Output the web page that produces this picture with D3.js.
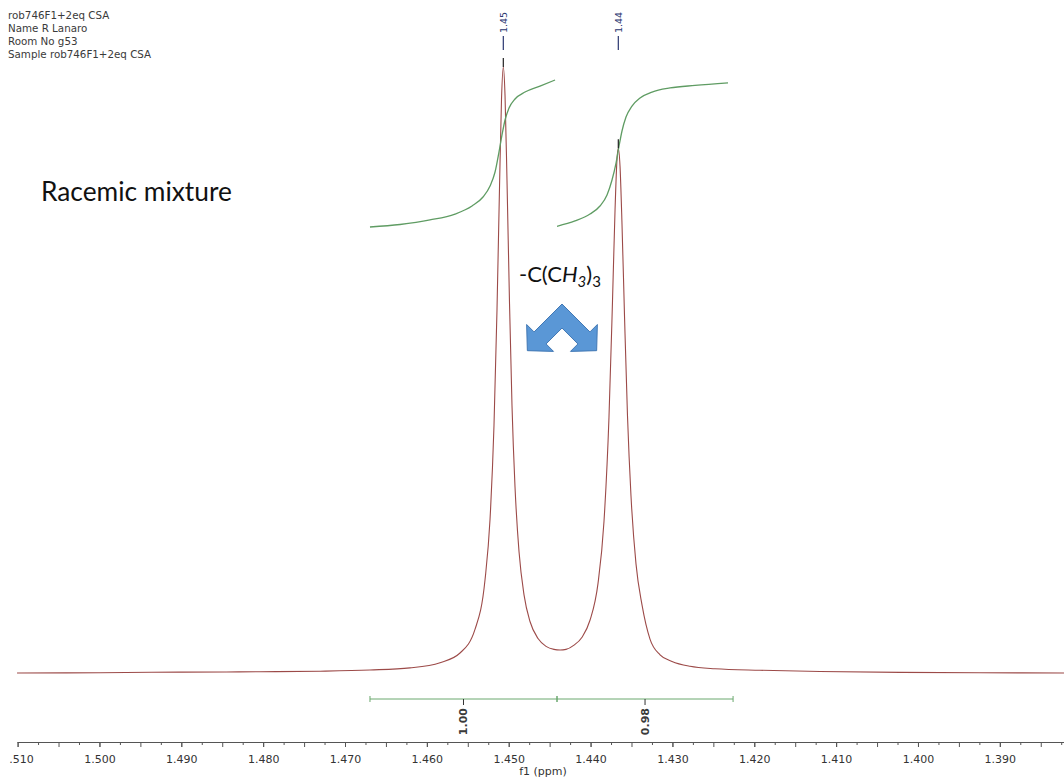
<!DOCTYPE html>
<html>
<head>
<meta charset="utf-8">
<script src="https://cdn.jsdelivr.net/npm/d3@7"></script>
<style>
  html, body { margin: 0; padding: 0; background: #ffffff; }
  svg { display: block; }
</style>
</head>
<body>
<svg id="chart" width="1064" height="782"></svg>
<script>
// ---- acquisition header ----
const headerLines = [
  "rob746F1+2eq CSA",
  "Name R Lanaro",
  "Room No g53",
  "Sample rob746F1+2eq CSA"
];

// ---- axis tick labels (ppm) ----
const tickLabels = ["1.510", "1.500", "1.490", "1.480", "1.470", "1.460", "1.450",
                    "1.440", "1.430", "1.420", "1.410", "1.400", "1.390"];

// ---- 1H spectrum, tert-butyl region (ppm, relative intensity) ----
const spectrumPpm = [
  1.51007, 1.49993, 1.49016, 1.48039, 1.47305, 1.46695, 1.46206, 1.45839, 1.45595,
  1.45412, 1.45290, 1.45228, 1.45180, 1.45143, 1.45112, 1.45088, 1.45066, 1.45045,
  1.45021, 1.44990, 1.44960, 1.44923, 1.44874, 1.44813, 1.44740, 1.44642, 1.44544,
  1.44447, 1.44373, 1.44300, 1.44202, 1.44104, 1.44007, 1.43909, 1.43836, 1.43775,
  1.43732, 1.43701, 1.43677, 1.43661, 1.43640, 1.43616, 1.43585, 1.43549, 1.43506,
  1.43445, 1.43371, 1.43274, 1.43151, 1.43005, 1.42785, 1.42480, 1.41930, 1.41197,
  1.40219, 1.39242, 1.38216
];
const spectrumIntensity = [
  0.0, 0.05, 0.15, 0.2, 0.3, 0.5, 0.85, 1.7, 3.3,
  7.2, 15.3, 25.4, 40.8, 60.0, 80.4, 94.7, 100.0, 95.3,
  81.3, 60.9, 44.2, 30.7, 20.0, 12.9, 8.5, 5.7, 4.4,
  3.9, 3.8, 3.9, 4.6, 5.9, 8.7, 14.8, 25.0, 42.2,
  61.4, 76.4, 84.8, 86.6, 83.6, 74.1, 58.8, 42.5, 29.2,
  18.0, 11.2, 5.6, 3.0, 1.9, 1.1, 0.7, 0.45, 0.25,
  0.1, 0.05, 0.0
];

// ---- peak picking ----
const peakPpm = [1.45066, 1.43661];
const peakLabels = ["1.45", "1.44"];

// ---- integrals ----
const integralRanges = [[1.46695, 1.44410], [1.44410, 1.42259]];
const integralLabels = ["1.00", "0.98"];

const integral1Ppm = [1.46695, 1.46328, 1.45962, 1.45656, 1.45448, 1.45314, 1.45228, 1.45167,
                      1.45119, 1.45082, 1.45045, 1.44996, 1.44923, 1.44801, 1.44618, 1.44434];
const integral1Value = [0.000, 0.017, 0.048, 0.088, 0.143, 0.204, 0.279, 0.374,
                        0.510, 0.626, 0.728, 0.810, 0.871, 0.918, 0.959, 1.000];

const integral2Ppm = [1.44410, 1.44190, 1.44007, 1.43885, 1.43799, 1.43738, 1.43689, 1.43652,
                      1.43616, 1.43567, 1.43494, 1.43396, 1.43249, 1.43029, 1.42724, 1.42321];
const integral2Value = [0.005, 0.041, 0.088, 0.143, 0.218, 0.320, 0.435, 0.551,
                        0.653, 0.748, 0.823, 0.878, 0.918, 0.946, 0.963, 0.980];

// ---- annotations ----
const sampleTitle = "Racemic mixture";

// ================= drawing =================
const W = 1064, H = 782;
const svg = d3.select("#chart");

const x = d3.scaleLinear().domain([1.51215, 1.38216]).range([0, W]);
const y = d3.scaleLinear().domain([0, 100]).range([673, 67]);
const yInt = d3.scaleLinear().domain([0, 1]).range([227, 80]);

const specColor = "#9c4a48";
const intColor = "#5f9c63";
const labelBlue = "#2a3670";
const sansSmall = "'DejaVu Sans', Tahoma, sans-serif";

// the spectrum window is cut just left of the 1.510 label
svg.append("defs").append("clipPath").attr("id", "plotClip")
  .append("rect").attr("x", 9).attr("y", 0).attr("width", W - 9).attr("height", H);

// header
const hdr = svg.append("g")
  .attr("font-family", sansSmall)
  .attr("font-size", 10.3)
  .attr("fill", "#3a3a3a");
hdr.selectAll("text").data(headerLines).join("text")
  .attr("x", 8)
  .attr("y", (d, i) => 18.5 + i * 13)
  .text(d => d);

// x axis
const axisY = 742;
const major = tickLabels.map(Number);
const minor = d3.range(0, 53).map(i => +(1.5100 - i * 0.0025).toFixed(4))
  .filter(v => v >= x.domain()[1]);

const axisG = svg.append("g").attr("clip-path", "url(#plotClip)");
const gMinor = axisG.append("g")
  .attr("transform", `translate(0,${axisY})`)
  .call(d3.axisBottom(x).tickValues(minor.filter(v => Math.round(v * 10000) % 50 !== 0))
    .tickSize(3).tickSizeOuter(0).tickFormat(""));
const gMid = axisG.append("g")
  .attr("transform", `translate(0,${axisY})`)
  .call(d3.axisBottom(x).tickValues(minor.filter(v => Math.round(v * 10000) % 50 === 0))
    .tickSize(5).tickSizeOuter(0).tickFormat(""));
const gMajor = axisG.append("g")
  .attr("transform", `translate(0,${axisY})`)
  .call(d3.axisBottom(x).tickValues(major).tickSize(5).tickSizeOuter(0)
    .tickFormat((d, i) => tickLabels[i]).tickPadding(8));

[gMinor, gMid, gMajor].forEach(g => {
  g.select(".domain").remove();
  g.selectAll(".tick line").attr("stroke", "#555");
});
axisG.append("line")
  .attr("x1", x(1.510)).attr("x2", W)
  .attr("y1", axisY + 0.5).attr("y2", axisY + 0.5)
  .attr("stroke", "#555").attr("stroke-width", 1);
gMajor.selectAll(".tick text")
  .attr("font-family", sansSmall)
  .attr("font-size", 11)
  .attr("fill", "#333");

svg.append("text")
  .attr("x", 543).attr("y", 775)
  .attr("text-anchor", "middle")
  .attr("font-family", sansSmall)
  .attr("font-size", 11)
  .attr("fill", "#333")
  .text("f1 (ppm)");

// spectrum
const specData = spectrumPpm.map((p, i) => [p, spectrumIntensity[i]]);
svg.append("path")
  .datum(specData)
  .attr("fill", "none")
  .attr("stroke", specColor)
  .attr("stroke-width", 1.1)
  .attr("d", d3.line().x(d => x(d[0])).y(d => y(d[1])).curve(d3.curveMonotoneX));

// integral curves
const intLine = d3.line().x(d => x(d[0])).y(d => yInt(d[1])).curve(d3.curveMonotoneX);
[[integral1Ppm, integral1Value], [integral2Ppm, integral2Value]].forEach(([ps, vs]) => {
  svg.append("path")
    .datum(ps.map((p, i) => [p, vs[i]]))
    .attr("fill", "none")
    .attr("stroke", intColor)
    .attr("stroke-width", 1.3)
    .attr("d", intLine);
});

// integration bar with labels
const barY = 699;
const bar = svg.append("g").attr("stroke", "#6aa86e").attr("stroke-width", 1);
integralRanges.forEach((r, i) => {
  bar.append("line").attr("x1", x(r[0])).attr("x2", x(r[1])).attr("y1", barY).attr("y2", barY);
  bar.append("line").attr("x1", x(r[0])).attr("x2", x(r[0])).attr("y1", barY - 3).attr("y2", barY + 3);
  bar.append("line").attr("x1", x(r[1])).attr("x2", x(r[1])).attr("y1", barY - 3).attr("y2", barY + 3);
  const cx = (x(r[0]) + x(r[1])) / 2;
  bar.append("line").attr("x1", cx).attr("x2", cx).attr("y1", barY).attr("y2", barY + 6)
    .attr("stroke", "#333");
  svg.append("text")
    .attr("transform", `translate(${cx},${barY + 9}) rotate(-90)`)
    .attr("text-anchor", "end")
    .attr("dy", "0.35em")
    .attr("font-family", sansSmall)
    .attr("font-size", 11)
    .attr("font-weight", "bold")
    .attr("fill", "#3a3a3a")
    .text(integralLabels[i]);
});

// peak labels
peakPpm.forEach((p, i) => {
  const px = x(p);
  const top = y(spectrumIntensity[spectrumPpm.indexOf(p)]);
  svg.append("text")
    .attr("transform", `translate(${px},33) rotate(-90)`)
    .attr("text-anchor", "start")
    .attr("dy", "0.35em")
    .attr("font-family", sansSmall)
    .attr("font-size", 9.5)
    .attr("fill", labelBlue)
    .text(peakLabels[i]);
  svg.append("line")
    .attr("x1", px).attr("x2", px).attr("y1", 36).attr("y2", 50)
    .attr("stroke", labelBlue).attr("stroke-width", 1.2);
  svg.append("line")
    .attr("x1", px).attr("x2", px).attr("y1", top - 9).attr("y2", top)
    .attr("stroke", "#222").attr("stroke-width", 1.2);
});

// sample title
const title = svg.append("text")
  .attr("x", 41).attr("y", 201)
  .attr("font-family", "Lato, 'Open Sans', sans-serif")
  .attr("font-size", 20)
  .attr("fill", "#111")
  .text(sampleTitle);
const tw = title.node().getComputedTextLength();
title.attr("font-size", 20 * 191 / tw);

// group label  -C(CH3)3  with italic H and subscripts
const grp = svg.append("text")
  .attr("x", 519).attr("y", 282)
  .attr("font-family", "Lato, 'Open Sans', sans-serif")
  .attr("font-size", 22)
  .attr("fill", "#111");
grp.append("tspan").text("-C(C");
grp.append("tspan").attr("font-style", "italic").text("H");
grp.append("tspan").attr("font-style", "italic").attr("font-size", 15).attr("dy", 5).text("3");
grp.append("tspan").attr("dy", -5).text(")");
grp.append("tspan").attr("font-size", 15).attr("dy", 5).text("3");

// double-headed chevron arrow
(function drawArrow() {
  const cx = 562, apexY = 304, t = 17, s = 31, h = 18, b = 19;
  const r2 = Math.SQRT2;
  const C = [cx, apexY + t / r2];
  const add = (p, v, k) => [p[0] + v[0] * k, p[1] + v[1] * k];
  const uR = [1 / r2, 1 / r2], oR = [1 / r2, -1 / r2];
  const uL = [-1 / r2, 1 / r2], oL = [-1 / r2, -1 / r2];
  const BR = add(C, uR, s), BL = add(C, uL, s);
  const pts = [
    [cx, apexY],
    add(BR, oR, t / 2), add(BR, oR, b), add(BR, uR, h), add(BR, oR, -b), add(BR, oR, -t / 2),
    [cx, apexY + t * r2],
    add(BL, oL, -t / 2), add(BL, oL, -b), add(BL, uL, h), add(BL, oL, b), add(BL, oL, t / 2)
  ];
  svg.append("path")
    .attr("d", "M" + pts.map(p => p.join(",")).join("L") + "Z")
    .attr("fill", "#5a97d6")
    .attr("stroke", "#4278b4")
    .attr("stroke-width", 1)
    .attr("stroke-linejoin", "miter");
})();
</script>
</body>
</html>
